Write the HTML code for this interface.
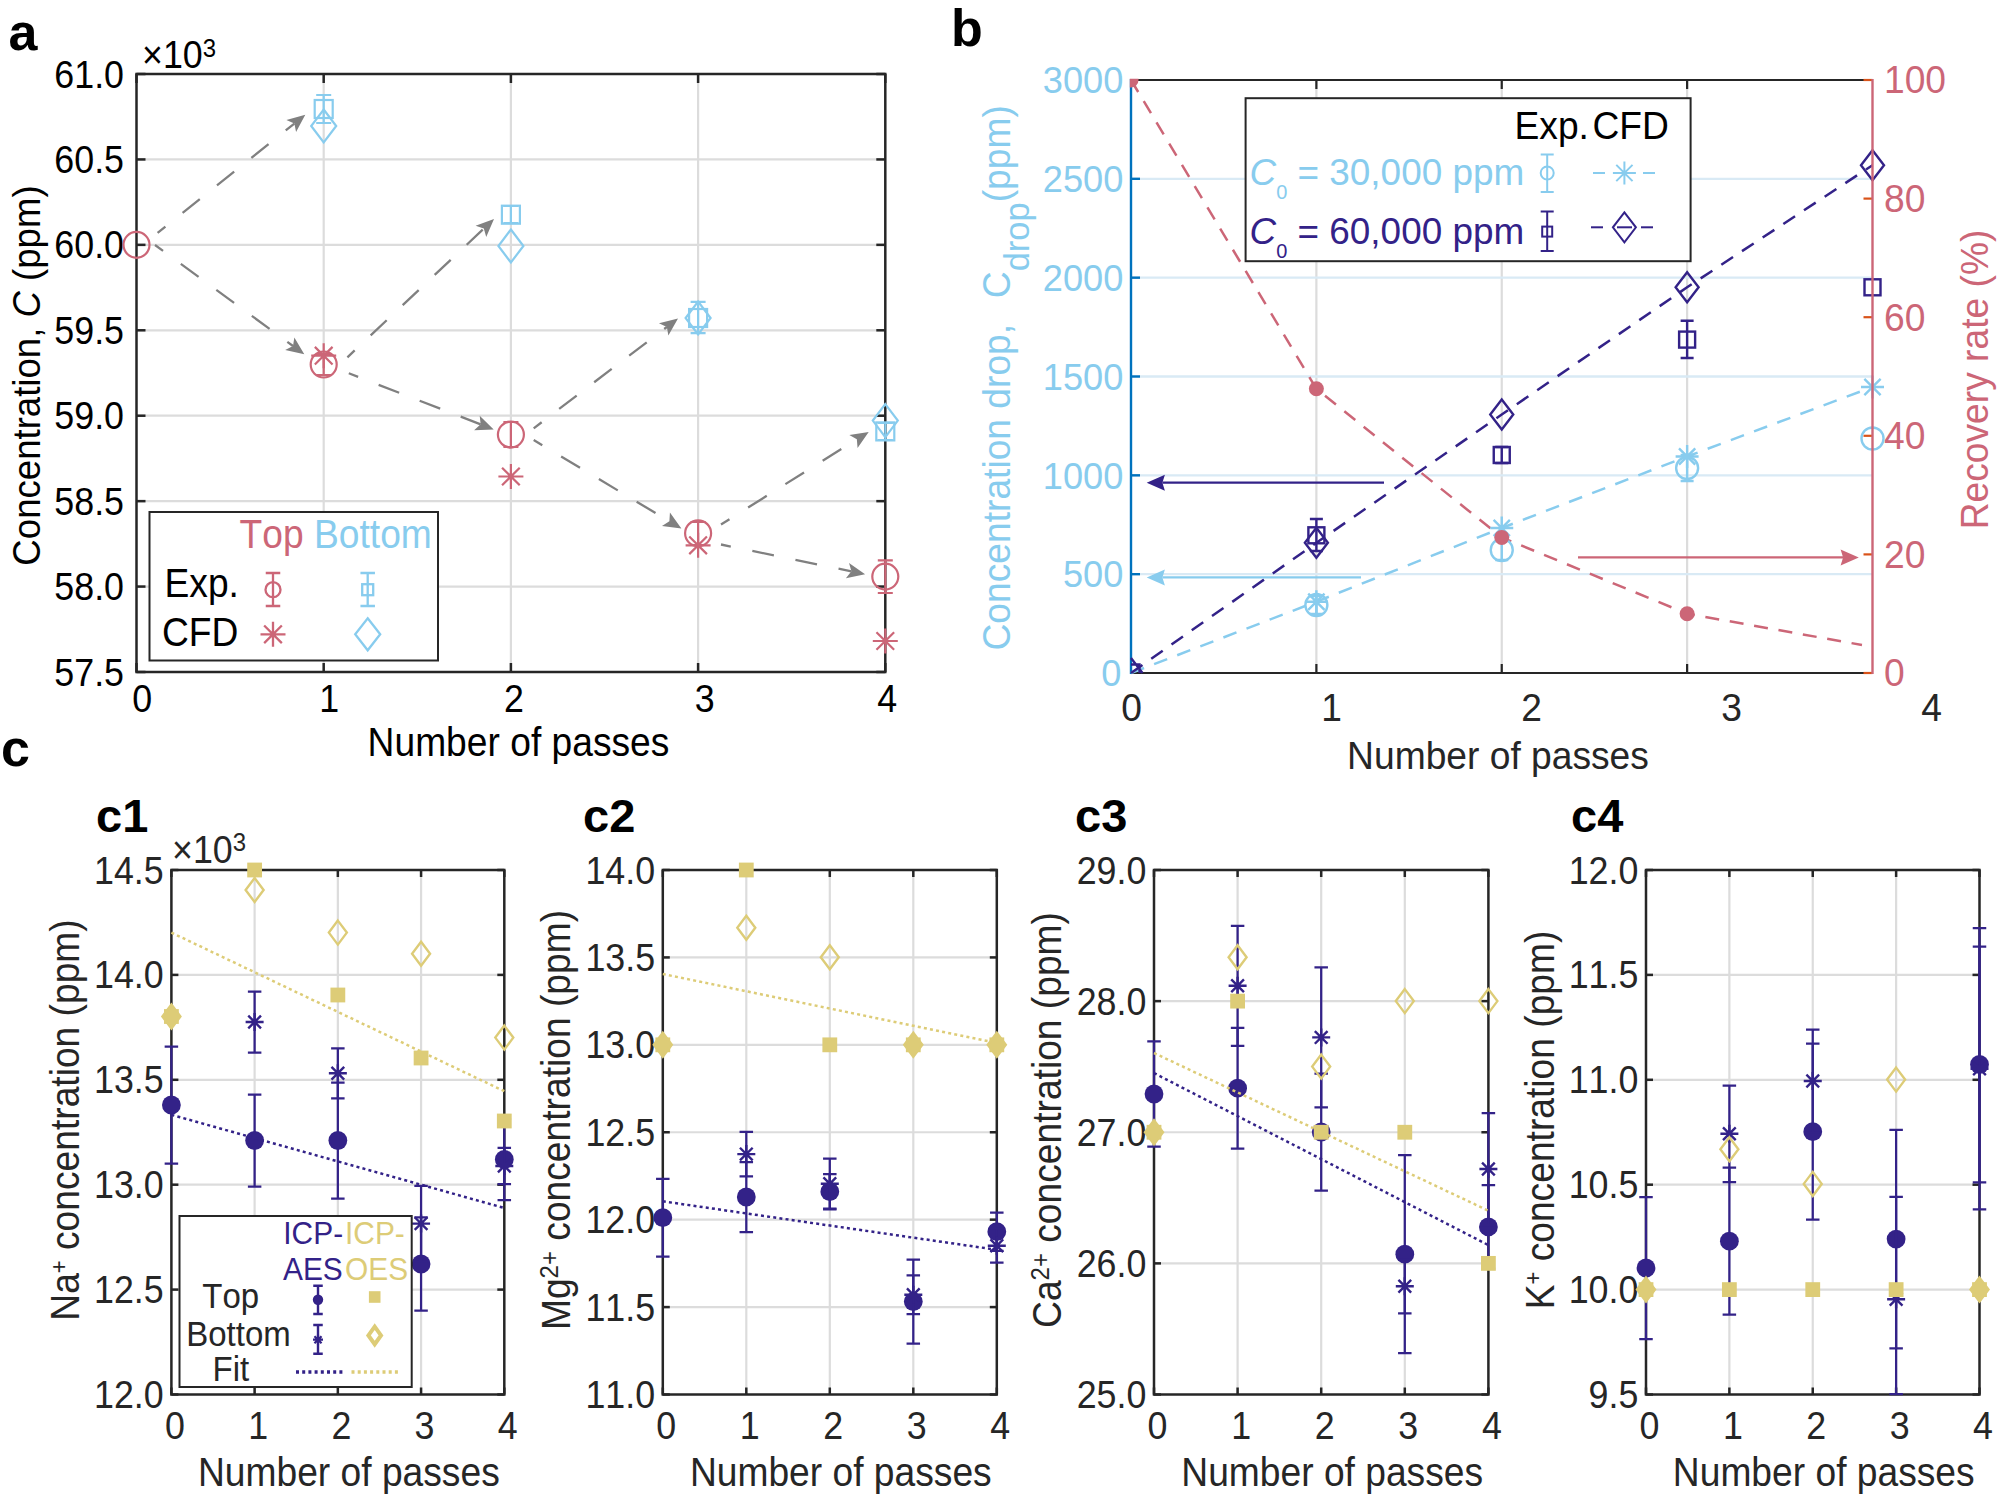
<!DOCTYPE html>
<html><head><meta charset="utf-8"><title>Figure</title>
<style>html,body{margin:0;padding:0;background:#fff}svg{display:block}</style></head>
<body>
<svg width="2000" height="1497" viewBox="0 0 2000 1497" font-family="Liberation Sans, Arial, sans-serif" style="font-kerning:none" font-kerning="none">
<rect width="2000" height="1497" fill="#fff"/>
<line x1="323.70" y1="74.00" x2="323.70" y2="672.00" stroke="#dcdcdc" stroke-width="2.2" />
<line x1="510.90" y1="74.00" x2="510.90" y2="672.00" stroke="#dcdcdc" stroke-width="2.2" />
<line x1="698.10" y1="74.00" x2="698.10" y2="672.00" stroke="#dcdcdc" stroke-width="2.2" />
<line x1="136.50" y1="159.43" x2="885.30" y2="159.43" stroke="#dcdcdc" stroke-width="2.2" />
<line x1="136.50" y1="244.86" x2="885.30" y2="244.86" stroke="#dcdcdc" stroke-width="2.2" />
<line x1="136.50" y1="330.29" x2="885.30" y2="330.29" stroke="#dcdcdc" stroke-width="2.2" />
<line x1="136.50" y1="415.71" x2="885.30" y2="415.71" stroke="#dcdcdc" stroke-width="2.2" />
<line x1="136.50" y1="501.14" x2="885.30" y2="501.14" stroke="#dcdcdc" stroke-width="2.2" />
<line x1="136.50" y1="586.57" x2="885.30" y2="586.57" stroke="#dcdcdc" stroke-width="2.2" />
<rect x="136.50" y="74.00" width="748.80" height="598.00" fill="none" stroke="#262626" stroke-width="2.5"/>
<line x1="136.50" y1="672.00" x2="136.50" y2="663.00" stroke="#262626" stroke-width="2.5" />
<line x1="136.50" y1="74.00" x2="136.50" y2="83.00" stroke="#262626" stroke-width="2.5" />
<line x1="323.70" y1="672.00" x2="323.70" y2="663.00" stroke="#262626" stroke-width="2.5" />
<line x1="323.70" y1="74.00" x2="323.70" y2="83.00" stroke="#262626" stroke-width="2.5" />
<line x1="510.90" y1="672.00" x2="510.90" y2="663.00" stroke="#262626" stroke-width="2.5" />
<line x1="510.90" y1="74.00" x2="510.90" y2="83.00" stroke="#262626" stroke-width="2.5" />
<line x1="698.10" y1="672.00" x2="698.10" y2="663.00" stroke="#262626" stroke-width="2.5" />
<line x1="698.10" y1="74.00" x2="698.10" y2="83.00" stroke="#262626" stroke-width="2.5" />
<line x1="885.30" y1="672.00" x2="885.30" y2="663.00" stroke="#262626" stroke-width="2.5" />
<line x1="885.30" y1="74.00" x2="885.30" y2="83.00" stroke="#262626" stroke-width="2.5" />
<line x1="136.50" y1="74.00" x2="145.50" y2="74.00" stroke="#262626" stroke-width="2.5" />
<line x1="885.30" y1="74.00" x2="876.30" y2="74.00" stroke="#262626" stroke-width="2.5" />
<line x1="136.50" y1="159.43" x2="145.50" y2="159.43" stroke="#262626" stroke-width="2.5" />
<line x1="885.30" y1="159.43" x2="876.30" y2="159.43" stroke="#262626" stroke-width="2.5" />
<line x1="136.50" y1="244.86" x2="145.50" y2="244.86" stroke="#262626" stroke-width="2.5" />
<line x1="885.30" y1="244.86" x2="876.30" y2="244.86" stroke="#262626" stroke-width="2.5" />
<line x1="136.50" y1="330.29" x2="145.50" y2="330.29" stroke="#262626" stroke-width="2.5" />
<line x1="885.30" y1="330.29" x2="876.30" y2="330.29" stroke="#262626" stroke-width="2.5" />
<line x1="136.50" y1="415.71" x2="145.50" y2="415.71" stroke="#262626" stroke-width="2.5" />
<line x1="885.30" y1="415.71" x2="876.30" y2="415.71" stroke="#262626" stroke-width="2.5" />
<line x1="136.50" y1="501.14" x2="145.50" y2="501.14" stroke="#262626" stroke-width="2.5" />
<line x1="885.30" y1="501.14" x2="876.30" y2="501.14" stroke="#262626" stroke-width="2.5" />
<line x1="136.50" y1="586.57" x2="145.50" y2="586.57" stroke="#262626" stroke-width="2.5" />
<line x1="885.30" y1="586.57" x2="876.30" y2="586.57" stroke="#262626" stroke-width="2.5" />
<line x1="136.50" y1="672.00" x2="145.50" y2="672.00" stroke="#262626" stroke-width="2.5" />
<line x1="885.30" y1="672.00" x2="876.30" y2="672.00" stroke="#262626" stroke-width="2.5" />
<text x="8.50" y="50.00" font-size="52" fill="#000" text-anchor="start" font-weight="bold" >a</text>
<text transform="translate(142.00 68.00) scale(1 1.075)" font-size="35.8" fill="#000" text-anchor="start" >×10<tspan font-size="24" dy="-10.5">3</tspan></text>
<text transform="translate(124.00 87.50) scale(1 1.1)" font-size="35.8" fill="#000" text-anchor="end" >61.0</text>
<text transform="translate(124.00 172.93) scale(1 1.1)" font-size="35.8" fill="#000" text-anchor="end" >60.5</text>
<text transform="translate(124.00 258.36) scale(1 1.1)" font-size="35.8" fill="#000" text-anchor="end" >60.0</text>
<text transform="translate(124.00 343.79) scale(1 1.1)" font-size="35.8" fill="#000" text-anchor="end" >59.5</text>
<text transform="translate(124.00 429.21) scale(1 1.1)" font-size="35.8" fill="#000" text-anchor="end" >59.0</text>
<text transform="translate(124.00 514.64) scale(1 1.1)" font-size="35.8" fill="#000" text-anchor="end" >58.5</text>
<text transform="translate(124.00 600.07) scale(1 1.1)" font-size="35.8" fill="#000" text-anchor="end" >58.0</text>
<text transform="translate(124.00 685.50) scale(1 1.1)" font-size="35.8" fill="#000" text-anchor="end" >57.5</text>
<text transform="translate(142.20 712.00) scale(1 1.1)" font-size="35.8" fill="#000" text-anchor="middle" >0</text>
<text transform="translate(329.20 712.00) scale(1 1.1)" font-size="35.8" fill="#000" text-anchor="middle" >1</text>
<text transform="translate(513.90 712.00) scale(1 1.1)" font-size="35.8" fill="#000" text-anchor="middle" >2</text>
<text transform="translate(704.60 712.00) scale(1 1.1)" font-size="35.8" fill="#000" text-anchor="middle" >3</text>
<text transform="translate(887.30 712.00) scale(1 1.1)" font-size="35.8" fill="#000" text-anchor="middle" >4</text>
<text transform="translate(518.50 756.00) scale(1 1.075)" font-size="37.2" fill="#000" text-anchor="middle" >Number of passes</text>
<text transform="translate(40.00 375.50) rotate(-90) scale(1 1.075)" font-size="36.6" fill="#000" text-anchor="middle" >Concentration, <tspan font-style="italic">C</tspan> (ppm)</text>
<line x1="157.60" y1="232.80" x2="294.36" y2="123.54" stroke="#808080" stroke-width="2.3" stroke-dasharray="22 22" stroke-dashoffset="12"/>
<path d="M305.30 114.80L296.07 132.09L294.36 123.54L286.40 119.98Z" fill="#808080"/>
<line x1="155.00" y1="245.00" x2="293.00" y2="346.03" stroke="#808080" stroke-width="2.3" stroke-dasharray="22 22" stroke-dashoffset="12"/>
<path d="M304.30 354.30L285.20 349.92L293.00 346.03L294.35 337.41Z" fill="#808080"/>
<line x1="347.40" y1="357.30" x2="483.82" y2="228.61" stroke="#808080" stroke-width="2.3" stroke-dasharray="22 22" stroke-dashoffset="12"/>
<path d="M494.00 219.00L486.23 236.99L483.82 228.61L475.59 225.71Z" fill="#808080"/>
<line x1="348.80" y1="373.30" x2="480.64" y2="424.35" stroke="#808080" stroke-width="2.3" stroke-dasharray="22 22" stroke-dashoffset="12"/>
<path d="M493.70 429.40L474.12 430.13L480.64 424.35L479.71 415.67Z" fill="#808080"/>
<line x1="533.70" y1="428.30" x2="666.86" y2="326.98" stroke="#808080" stroke-width="2.3" stroke-dasharray="22 22" stroke-dashoffset="12"/>
<path d="M678.00 318.50L668.37 335.57L666.86 326.98L658.98 323.23Z" fill="#808080"/>
<line x1="533.70" y1="440.00" x2="669.39" y2="521.30" stroke="#808080" stroke-width="2.3" stroke-dasharray="22 22" stroke-dashoffset="12"/>
<path d="M681.40 528.50L661.98 525.90L669.39 521.30L669.94 512.60Z" fill="#808080"/>
<line x1="721.00" y1="524.50" x2="856.84" y2="439.34" stroke="#808080" stroke-width="2.3" stroke-dasharray="22 22" stroke-dashoffset="12"/>
<path d="M868.70 431.90L857.57 448.03L856.84 439.34L849.33 434.90Z" fill="#808080"/>
<line x1="721.00" y1="544.50" x2="851.39" y2="571.37" stroke="#808080" stroke-width="2.3" stroke-dasharray="22 22" stroke-dashoffset="12"/>
<path d="M865.10 574.20L845.91 578.16L851.39 571.37L849.04 562.98Z" fill="#808080"/>
<circle cx="136.50" cy="244.86" r="13" stroke="#CC6677" stroke-width="2.2" fill="none"/>
<path d="M323.70 354.00V375.00M316.20 354.00H331.20M316.20 375.00H331.20" stroke="#CC6677" stroke-width="2.2" fill="none"/>
<circle cx="323.70" cy="364.50" r="13" stroke="#CC6677" stroke-width="2.2" fill="none"/>
<path d="M510.90 422.00V447.00M503.40 422.00H518.40M503.40 447.00H518.40" stroke="#CC6677" stroke-width="2.2" fill="none"/>
<circle cx="510.90" cy="434.60" r="13" stroke="#CC6677" stroke-width="2.2" fill="none"/>
<path d="M698.10 522.00V545.00M690.60 522.00H705.60M690.60 545.00H705.60" stroke="#CC6677" stroke-width="2.2" fill="none"/>
<circle cx="698.10" cy="533.30" r="13" stroke="#CC6677" stroke-width="2.2" fill="none"/>
<path d="M885.30 560.40V593.00M877.80 560.40H892.80M877.80 593.00H892.80" stroke="#CC6677" stroke-width="2.2" fill="none"/>
<circle cx="885.30" cy="576.60" r="13" stroke="#CC6677" stroke-width="2.2" fill="none"/>
<path d="M311.20 355.70H336.20M323.70 343.20V368.20M314.86 346.86L332.54 364.54M314.86 364.54L332.54 346.86" stroke="#CC6677" stroke-width="2.2" fill="none"/>
<path d="M498.40 476.50H523.40M510.90 464.00V489.00M502.06 467.66L519.74 485.34M502.06 485.34L519.74 467.66" stroke="#CC6677" stroke-width="2.2" fill="none"/>
<path d="M685.60 545.30H710.60M698.10 532.80V557.80M689.26 536.46L706.94 554.14M689.26 554.14L706.94 536.46" stroke="#CC6677" stroke-width="2.2" fill="none"/>
<path d="M872.80 641.00H897.80M885.30 628.50V653.50M876.46 632.16L894.14 649.84M876.46 649.84L894.14 632.16" stroke="#CC6677" stroke-width="2.2" fill="none"/>
<path d="M323.70 95.00V123.00M316.20 95.00H331.20M316.20 123.00H331.20" stroke="#88CCEE" stroke-width="2.2" fill="none"/>
<rect x="314.70" y="100.00" width="18" height="18" stroke="#88CCEE" stroke-width="2.2" fill="none"/>
<path d="M510.90 206.00V223.00M503.40 206.00H518.40M503.40 223.00H518.40" stroke="#88CCEE" stroke-width="2.2" fill="none"/>
<rect x="501.90" y="205.70" width="18" height="18" stroke="#88CCEE" stroke-width="2.2" fill="none"/>
<path d="M698.10 301.80V333.20M690.60 301.80H705.60M690.60 333.20H705.60" stroke="#88CCEE" stroke-width="2.2" fill="none"/>
<rect x="689.10" y="309.00" width="18" height="18" stroke="#88CCEE" stroke-width="2.2" fill="none"/>
<path d="M885.30 423.00V440.00M877.80 423.00H892.80M877.80 440.00H892.80" stroke="#88CCEE" stroke-width="2.2" fill="none"/>
<rect x="876.30" y="422.40" width="18" height="18" stroke="#88CCEE" stroke-width="2.2" fill="none"/>
<path d="M323.70 109.50L336.20 126.00L323.70 142.50L311.20 126.00Z" stroke="#88CCEE" stroke-width="2.2" fill="none" stroke-linejoin="miter"/>
<path d="M510.90 229.50L523.40 246.00L510.90 262.50L498.40 246.00Z" stroke="#88CCEE" stroke-width="2.2" fill="none" stroke-linejoin="miter"/>
<path d="M698.10 301.50L710.60 318.00L698.10 334.50L685.60 318.00Z" stroke="#88CCEE" stroke-width="2.2" fill="none" stroke-linejoin="miter"/>
<path d="M885.30 404.10L897.80 420.60L885.30 437.10L872.80 420.60Z" stroke="#88CCEE" stroke-width="2.2" fill="none" stroke-linejoin="miter"/>
<rect x="149.5" y="512" width="288.5" height="148.5" fill="#fff" stroke="#262626" stroke-width="2"/>
<text transform="translate(239.50 548.00) scale(1 1.075)" font-size="37.2" fill="#CC6677" text-anchor="start" >Top</text>
<text transform="translate(314.00 548.00) scale(1 1.075)" font-size="37.2" fill="#88CCEE" text-anchor="start" >Bottom</text>
<text transform="translate(164.50 596.70) scale(1 1.075)" font-size="37.2" fill="#000" text-anchor="start" >Exp.</text>
<text transform="translate(162.00 646.00) scale(1 1.075)" font-size="37.2" fill="#000" text-anchor="start" >CFD</text>
<path d="M273.00 573.00V606.00M265.75 573.00H280.25M265.75 606.00H280.25" stroke="#CC6677" stroke-width="2.3" fill="none"/>
<circle cx="273.00" cy="589.70" r="7.5" stroke="#CC6677" stroke-width="2.3" fill="none"/>
<path d="M367.70 573.00V606.00M360.45 573.00H374.95M360.45 606.00H374.95" stroke="#88CCEE" stroke-width="2.3" fill="none"/>
<rect x="362.20" y="584.20" width="11" height="11" stroke="#88CCEE" stroke-width="2.3" fill="none"/>
<path d="M260.50 634.30H285.50M273.00 621.80V646.80M264.16 625.46L281.84 643.14M264.16 643.14L281.84 625.46" stroke="#CC6677" stroke-width="2.3" fill="none"/>
<path d="M367.70 618.30L380.20 634.30L367.70 650.30L355.20 634.30Z" stroke="#88CCEE" stroke-width="2.3" fill="none" stroke-linejoin="miter"/>
<line x1="1316.38" y1="80.00" x2="1316.38" y2="673.00" stroke="#dcdcdc" stroke-width="2.2" />
<line x1="1501.75" y1="80.00" x2="1501.75" y2="673.00" stroke="#dcdcdc" stroke-width="2.2" />
<line x1="1687.12" y1="80.00" x2="1687.12" y2="673.00" stroke="#dcdcdc" stroke-width="2.2" />
<line x1="1131.00" y1="178.83" x2="1872.50" y2="178.83" stroke="#d9eaf5" stroke-width="2.3" />
<line x1="1131.00" y1="277.67" x2="1872.50" y2="277.67" stroke="#d9eaf5" stroke-width="2.3" />
<line x1="1131.00" y1="376.50" x2="1872.50" y2="376.50" stroke="#d9eaf5" stroke-width="2.3" />
<line x1="1131.00" y1="475.33" x2="1872.50" y2="475.33" stroke="#d9eaf5" stroke-width="2.3" />
<line x1="1131.00" y1="574.17" x2="1872.50" y2="574.17" stroke="#d9eaf5" stroke-width="2.3" />
<line x1="1131.00" y1="80.00" x2="1872.50" y2="80.00" stroke="#262626" stroke-width="2.2" />
<line x1="1131.00" y1="673.00" x2="1872.50" y2="673.00" stroke="#262626" stroke-width="2.2" />
<line x1="1316.38" y1="80.00" x2="1316.38" y2="89.00" stroke="#262626" stroke-width="2.2" />
<line x1="1316.38" y1="673.00" x2="1316.38" y2="664.00" stroke="#262626" stroke-width="2.2" />
<line x1="1501.75" y1="80.00" x2="1501.75" y2="89.00" stroke="#262626" stroke-width="2.2" />
<line x1="1501.75" y1="673.00" x2="1501.75" y2="664.00" stroke="#262626" stroke-width="2.2" />
<line x1="1687.12" y1="80.00" x2="1687.12" y2="89.00" stroke="#262626" stroke-width="2.2" />
<line x1="1687.12" y1="673.00" x2="1687.12" y2="664.00" stroke="#262626" stroke-width="2.2" />
<line x1="1131.00" y1="79.00" x2="1131.00" y2="674.00" stroke="#0072BD" stroke-width="2.4" />
<line x1="1131.00" y1="178.83" x2="1140.00" y2="178.83" stroke="#0072BD" stroke-width="2.4" />
<line x1="1131.00" y1="277.67" x2="1140.00" y2="277.67" stroke="#0072BD" stroke-width="2.4" />
<line x1="1131.00" y1="376.50" x2="1140.00" y2="376.50" stroke="#0072BD" stroke-width="2.4" />
<line x1="1131.00" y1="475.33" x2="1140.00" y2="475.33" stroke="#0072BD" stroke-width="2.4" />
<line x1="1131.00" y1="574.17" x2="1140.00" y2="574.17" stroke="#0072BD" stroke-width="2.4" />
<line x1="1863.50" y1="673.00" x2="1872.50" y2="673.00" stroke="#D95319" stroke-width="2.2" />
<line x1="1863.50" y1="554.40" x2="1872.50" y2="554.40" stroke="#D95319" stroke-width="2.2" />
<line x1="1863.50" y1="435.80" x2="1872.50" y2="435.80" stroke="#D95319" stroke-width="2.2" />
<line x1="1863.50" y1="317.20" x2="1872.50" y2="317.20" stroke="#D95319" stroke-width="2.2" />
<line x1="1863.50" y1="198.60" x2="1872.50" y2="198.60" stroke="#D95319" stroke-width="2.2" />
<line x1="1863.50" y1="80.00" x2="1872.50" y2="80.00" stroke="#D95319" stroke-width="2.2" />
<text x="951.00" y="45.50" font-size="52" fill="#000" text-anchor="start" font-weight="bold" >b</text>
<text transform="translate(1123.30 93.30) scale(1 1.03)" font-size="36.2" fill="#88CCEE" text-anchor="end" >3000</text>
<text transform="translate(1123.30 192.13) scale(1 1.03)" font-size="36.2" fill="#88CCEE" text-anchor="end" >2500</text>
<text transform="translate(1123.30 290.97) scale(1 1.03)" font-size="36.2" fill="#88CCEE" text-anchor="end" >2000</text>
<text transform="translate(1123.30 389.80) scale(1 1.03)" font-size="36.2" fill="#88CCEE" text-anchor="end" >1500</text>
<text transform="translate(1123.30 488.63) scale(1 1.03)" font-size="36.2" fill="#88CCEE" text-anchor="end" >1000</text>
<text transform="translate(1123.30 587.47) scale(1 1.03)" font-size="36.2" fill="#88CCEE" text-anchor="end" >500</text>
<text transform="translate(1121.50 686.30) scale(1 1.03)" font-size="36.2" fill="#88CCEE" text-anchor="end" >0</text>
<text transform="translate(1884.00 686.30) scale(1 1.03)" font-size="37.2" fill="#CC6677" text-anchor="start" >0</text>
<text transform="translate(1884.00 567.70) scale(1 1.03)" font-size="37.2" fill="#CC6677" text-anchor="start" >20</text>
<text transform="translate(1884.00 449.10) scale(1 1.03)" font-size="37.2" fill="#CC6677" text-anchor="start" >40</text>
<text transform="translate(1884.00 330.50) scale(1 1.03)" font-size="37.2" fill="#CC6677" text-anchor="start" >60</text>
<text transform="translate(1884.00 211.90) scale(1 1.03)" font-size="37.2" fill="#CC6677" text-anchor="start" >80</text>
<text transform="translate(1884.00 93.30) scale(1 1.03)" font-size="37.2" fill="#CC6677" text-anchor="start" >100</text>
<text transform="translate(1131.50 720.50) scale(1 1.03)" font-size="37.2" fill="#262626" text-anchor="middle" >0</text>
<text transform="translate(1331.50 720.50) scale(1 1.03)" font-size="37.2" fill="#262626" text-anchor="middle" >1</text>
<text transform="translate(1531.50 720.50) scale(1 1.03)" font-size="37.2" fill="#262626" text-anchor="middle" >2</text>
<text transform="translate(1731.50 720.50) scale(1 1.03)" font-size="37.2" fill="#262626" text-anchor="middle" >3</text>
<text transform="translate(1931.50 720.50) scale(1 1.03)" font-size="37.2" fill="#262626" text-anchor="middle" >4</text>
<text transform="translate(1498.00 769.00) scale(1 1.02)" font-size="37.2" fill="#262626" text-anchor="middle" >Number of passes</text>
<text transform="translate(1010 650.5) rotate(-90) scale(1 1.02)" font-size="37.2" fill="#88CCEE">Concentration drop,&#160;&#160;<tspan dx="5">C</tspan><tspan font-size="34.5" dy="19">drop</tspan><tspan dy="-19">(ppm)</tspan></text>
<text transform="translate(1987.50 379.50) rotate(-90) scale(1 1.02)" font-size="37.2" fill="#CC6677" text-anchor="middle" >Recovery rate (%)</text>
<polyline points="1131.00,80.00 1316.38,388.80 1501.75,537.40 1687.12,613.70 1862.00,645.00" fill="none" stroke="#CC6677" stroke-width="2.5" stroke-dasharray="14 10.75" />
<polyline points="1131.00,673.00 1316.38,601.70 1501.75,528.00 1687.12,456.50 1872.50,387.00" fill="none" stroke="#88CCEE" stroke-width="2.5" stroke-dasharray="14 10.75" />
<polyline points="1131.00,673.00 1316.38,542.80 1501.75,414.50 1687.12,287.30 1872.50,165.20" fill="none" stroke="#332288" stroke-width="2.5" stroke-dasharray="14 10.75" />
<path d="M1129.8 78.8H1138.5V80A7.5 7.5 0 0 1 1131 87.5H1129.8Z" fill="#CC6677"/>
<path d="M1131 658L1142.5 673M1131 664.5H1139.5V673" stroke="#332288" stroke-width="2.4" fill="none"/>
<path d="M1304.88 601.70H1327.88M1316.38 590.20V613.20M1308.24 593.57L1324.51 609.83M1308.24 609.83L1324.51 593.57" stroke="#88CCEE" stroke-width="2.4" fill="none"/>
<path d="M1490.25 528.00H1513.25M1501.75 516.50V539.50M1493.62 519.87L1509.88 536.13M1493.62 536.13L1509.88 519.87" stroke="#88CCEE" stroke-width="2.4" fill="none"/>
<path d="M1675.62 456.50H1698.62M1687.12 445.00V468.00M1678.99 448.37L1695.26 464.63M1678.99 464.63L1695.26 448.37" stroke="#88CCEE" stroke-width="2.4" fill="none"/>
<path d="M1861.00 387.00H1884.00M1872.50 375.50V398.50M1864.37 378.87L1880.63 395.13M1864.37 395.13L1880.63 378.87" stroke="#88CCEE" stroke-width="2.4" fill="none"/>
<path d="M1316.38 596.00V614.00M1309.88 596.00H1322.88M1309.88 614.00H1322.88" stroke="#88CCEE" stroke-width="2.4" fill="none"/>
<circle cx="1316.38" cy="605.00" r="11" stroke="#88CCEE" stroke-width="2.4" fill="none"/>
<path d="M1501.75 540.00V560.00M1495.25 540.00H1508.25M1495.25 560.00H1508.25" stroke="#88CCEE" stroke-width="2.4" fill="none"/>
<circle cx="1501.75" cy="550.00" r="11" stroke="#88CCEE" stroke-width="2.4" fill="none"/>
<path d="M1687.12 455.00V481.00M1680.62 455.00H1693.62M1680.62 481.00H1693.62" stroke="#88CCEE" stroke-width="2.4" fill="none"/>
<circle cx="1687.12" cy="468.00" r="11" stroke="#88CCEE" stroke-width="2.4" fill="none"/>
<circle cx="1872.50" cy="438.50" r="11" stroke="#88CCEE" stroke-width="2.4" fill="none"/>
<path d="M1316.38 527.80L1327.88 542.80L1316.38 557.80L1304.88 542.80Z" stroke="#332288" stroke-width="2.4" fill="none" stroke-linejoin="miter"/>
<path d="M1501.75 399.50L1513.25 414.50L1501.75 429.50L1490.25 414.50Z" stroke="#332288" stroke-width="2.4" fill="none" stroke-linejoin="miter"/>
<path d="M1687.12 272.30L1698.62 287.30L1687.12 302.30L1675.62 287.30Z" stroke="#332288" stroke-width="2.4" fill="none" stroke-linejoin="miter"/>
<path d="M1872.50 150.20L1884.00 165.20L1872.50 180.20L1861.00 165.20Z" stroke="#332288" stroke-width="2.4" fill="none" stroke-linejoin="miter"/>
<path d="M1316.38 519.00V551.00M1309.88 519.00H1322.88M1309.88 551.00H1322.88" stroke="#332288" stroke-width="2.4" fill="none"/>
<rect x="1308.38" y="527.30" width="16" height="16" stroke="#332288" stroke-width="2.4" fill="none"/>
<path d="M1501.75 447.00V463.00M1495.25 447.00H1508.25M1495.25 463.00H1508.25" stroke="#332288" stroke-width="2.4" fill="none"/>
<rect x="1493.75" y="447.00" width="16" height="16" stroke="#332288" stroke-width="2.4" fill="none"/>
<path d="M1687.12 320.80V358.00M1680.62 320.80H1693.62M1680.62 358.00H1693.62" stroke="#332288" stroke-width="2.4" fill="none"/>
<rect x="1679.12" y="331.60" width="16" height="16" stroke="#332288" stroke-width="2.4" fill="none"/>
<rect x="1864.50" y="279.30" width="16" height="16" stroke="#332288" stroke-width="2.4" fill="none"/>
<circle cx="1316.38" cy="388.80" r="7.5" fill="#CC6677"/>
<circle cx="1501.75" cy="537.40" r="7.5" fill="#CC6677"/>
<circle cx="1687.12" cy="613.70" r="7.5" fill="#CC6677"/>
<line x1="1872.50" y1="79.00" x2="1872.50" y2="674.00" stroke="#CC6677" stroke-width="2.4" />
<line x1="1384.00" y1="482.70" x2="1162.40" y2="482.70" stroke="#332288" stroke-width="2.3" />
<path d="M1146.70 482.70L1164.90 474.70L1162.40 482.70L1164.90 490.70Z" fill="#332288"/>
<line x1="1361.00" y1="577.40" x2="1162.40" y2="577.40" stroke="#88CCEE" stroke-width="2.3" />
<path d="M1146.70 577.40L1164.90 569.40L1162.40 577.40L1164.90 585.40Z" fill="#88CCEE"/>
<line x1="1578.00" y1="557.40" x2="1843.10" y2="557.40" stroke="#CC6677" stroke-width="2.3" />
<path d="M1858.80 557.40L1840.60 565.40L1843.10 557.40L1840.60 549.40Z" fill="#CC6677"/>
<rect x="1245.6" y="98.2" width="445" height="163" fill="#fff" stroke="#262626" stroke-width="2"/>
<text transform="translate(1514.50 138.60) scale(1 1.02)" font-size="37.2" fill="#000" text-anchor="start" >Exp.</text>
<text transform="translate(1592.50 138.60) scale(1 1.02)" font-size="37.2" fill="#000" text-anchor="start" >CFD</text>
<text transform="translate(1249.50 185.00) scale(1 1.02)" font-size="36.9" fill="#88CCEE" text-anchor="start" ><tspan font-style="italic">C</tspan><tspan font-size="20" dy="14">0</tspan><tspan dy="-14"> = 30,000 ppm</tspan></text>
<text transform="translate(1249.50 244.00) scale(1 1.02)" font-size="36.9" fill="#332288" text-anchor="start" ><tspan font-style="italic">C</tspan><tspan font-size="20" dy="14">0</tspan><tspan dy="-14"> = 60,000 ppm</tspan></text>
<path d="M1547.20 154.40V192.00M1540.70 154.40H1553.70M1540.70 192.00H1553.70" stroke="#88CCEE" stroke-width="2" fill="none"/>
<circle cx="1547.20" cy="173.00" r="6.5" stroke="#88CCEE" stroke-width="2" fill="none"/>
<line x1="1593.00" y1="173.00" x2="1605.00" y2="173.00" stroke="#88CCEE" stroke-width="2" />
<line x1="1643.00" y1="173.00" x2="1655.00" y2="173.00" stroke="#88CCEE" stroke-width="2" />
<path d="M1612.90 173.00H1635.90M1624.40 161.50V184.50M1616.27 164.87L1632.53 181.13M1616.27 181.13L1632.53 164.87" stroke="#88CCEE" stroke-width="2" fill="none"/>
<path d="M1547.20 211.50V251.00M1540.70 211.50H1553.70M1540.70 251.00H1553.70" stroke="#332288" stroke-width="2" fill="none"/>
<rect x="1542.20" y="226.60" width="10" height="10" stroke="#332288" stroke-width="2" fill="none"/>
<line x1="1591.00" y1="227.30" x2="1603.00" y2="227.30" stroke="#332288" stroke-width="2" />
<line x1="1641.00" y1="227.30" x2="1653.00" y2="227.30" stroke="#332288" stroke-width="2" />
<line x1="1617.00" y1="227.30" x2="1632.00" y2="227.30" stroke="#332288" stroke-width="2" />
<path d="M1624.40 212.30L1635.90 227.30L1624.40 242.30L1612.90 227.30Z" stroke="#332288" stroke-width="2" fill="none" stroke-linejoin="miter"/>
<text x="1.00" y="765.50" font-size="52" fill="#000" text-anchor="start" font-weight="bold" >c</text>
<line x1="254.62" y1="870.00" x2="254.62" y2="1394.50" stroke="#dcdcdc" stroke-width="2.2" />
<line x1="337.85" y1="870.00" x2="337.85" y2="1394.50" stroke="#dcdcdc" stroke-width="2.2" />
<line x1="421.07" y1="870.00" x2="421.07" y2="1394.50" stroke="#dcdcdc" stroke-width="2.2" />
<line x1="171.40" y1="974.90" x2="504.30" y2="974.90" stroke="#dcdcdc" stroke-width="2.2" />
<line x1="171.40" y1="1079.80" x2="504.30" y2="1079.80" stroke="#dcdcdc" stroke-width="2.2" />
<line x1="171.40" y1="1184.70" x2="504.30" y2="1184.70" stroke="#dcdcdc" stroke-width="2.2" />
<line x1="171.40" y1="1289.60" x2="504.30" y2="1289.60" stroke="#dcdcdc" stroke-width="2.2" />
<rect x="171.40" y="870.00" width="332.90" height="524.50" fill="none" stroke="#262626" stroke-width="2.5"/>
<line x1="171.40" y1="1394.50" x2="171.40" y2="1387.50" stroke="#262626" stroke-width="2.5" />
<line x1="171.40" y1="870.00" x2="171.40" y2="877.00" stroke="#262626" stroke-width="2.5" />
<line x1="254.62" y1="1394.50" x2="254.62" y2="1387.50" stroke="#262626" stroke-width="2.5" />
<line x1="254.62" y1="870.00" x2="254.62" y2="877.00" stroke="#262626" stroke-width="2.5" />
<line x1="337.85" y1="1394.50" x2="337.85" y2="1387.50" stroke="#262626" stroke-width="2.5" />
<line x1="337.85" y1="870.00" x2="337.85" y2="877.00" stroke="#262626" stroke-width="2.5" />
<line x1="421.07" y1="1394.50" x2="421.07" y2="1387.50" stroke="#262626" stroke-width="2.5" />
<line x1="421.07" y1="870.00" x2="421.07" y2="877.00" stroke="#262626" stroke-width="2.5" />
<line x1="504.30" y1="1394.50" x2="504.30" y2="1387.50" stroke="#262626" stroke-width="2.5" />
<line x1="504.30" y1="870.00" x2="504.30" y2="877.00" stroke="#262626" stroke-width="2.5" />
<line x1="171.40" y1="870.00" x2="178.40" y2="870.00" stroke="#262626" stroke-width="2.5" />
<line x1="504.30" y1="870.00" x2="497.30" y2="870.00" stroke="#262626" stroke-width="2.5" />
<line x1="171.40" y1="974.90" x2="178.40" y2="974.90" stroke="#262626" stroke-width="2.5" />
<line x1="504.30" y1="974.90" x2="497.30" y2="974.90" stroke="#262626" stroke-width="2.5" />
<line x1="171.40" y1="1079.80" x2="178.40" y2="1079.80" stroke="#262626" stroke-width="2.5" />
<line x1="504.30" y1="1079.80" x2="497.30" y2="1079.80" stroke="#262626" stroke-width="2.5" />
<line x1="171.40" y1="1184.70" x2="178.40" y2="1184.70" stroke="#262626" stroke-width="2.5" />
<line x1="504.30" y1="1184.70" x2="497.30" y2="1184.70" stroke="#262626" stroke-width="2.5" />
<line x1="171.40" y1="1289.60" x2="178.40" y2="1289.60" stroke="#262626" stroke-width="2.5" />
<line x1="504.30" y1="1289.60" x2="497.30" y2="1289.60" stroke="#262626" stroke-width="2.5" />
<line x1="171.40" y1="1394.50" x2="178.40" y2="1394.50" stroke="#262626" stroke-width="2.5" />
<line x1="504.30" y1="1394.50" x2="497.30" y2="1394.50" stroke="#262626" stroke-width="2.5" />
<text x="96.00" y="831.50" font-size="47" fill="#000" text-anchor="start" font-weight="bold" >c1</text>
<text transform="translate(163.70 883.50) scale(1 1.1)" font-size="35.8" fill="#262626" text-anchor="end" >14.5</text>
<text transform="translate(163.70 988.40) scale(1 1.1)" font-size="35.8" fill="#262626" text-anchor="end" >14.0</text>
<text transform="translate(163.70 1093.30) scale(1 1.1)" font-size="35.8" fill="#262626" text-anchor="end" >13.5</text>
<text transform="translate(163.70 1198.20) scale(1 1.1)" font-size="35.8" fill="#262626" text-anchor="end" >13.0</text>
<text transform="translate(163.70 1303.10) scale(1 1.1)" font-size="35.8" fill="#262626" text-anchor="end" >12.5</text>
<text transform="translate(163.70 1408.00) scale(1 1.1)" font-size="35.8" fill="#262626" text-anchor="end" >12.0</text>
<text transform="translate(174.90 1438.50) scale(1 1.1)" font-size="35.8" fill="#262626" text-anchor="middle" >0</text>
<text transform="translate(258.12 1438.50) scale(1 1.1)" font-size="35.8" fill="#262626" text-anchor="middle" >1</text>
<text transform="translate(341.35 1438.50) scale(1 1.1)" font-size="35.8" fill="#262626" text-anchor="middle" >2</text>
<text transform="translate(424.57 1438.50) scale(1 1.1)" font-size="35.8" fill="#262626" text-anchor="middle" >3</text>
<text transform="translate(507.80 1438.50) scale(1 1.1)" font-size="35.8" fill="#262626" text-anchor="middle" >4</text>
<text transform="translate(348.85 1486.00) scale(1 1.075)" font-size="37.2" fill="#262626" text-anchor="middle" >Number of passes</text>
<text transform="translate(79.00 1120.00) rotate(-90) scale(1 1.075)" font-size="37.2" fill="#262626" text-anchor="middle" >Na<tspan font-size="22" dy="-11.5">+</tspan><tspan dy="11.5"> concentration (ppm)</tspan></text>
<text transform="translate(172.00 862.50) scale(1 1.075)" font-size="35.8" fill="#262626" text-anchor="start" >×10<tspan font-size="24" dy="-10.5">3</tspan></text>
<path d="M171.40 1046.50V1163.50M164.65 1046.50H178.15M164.65 1163.50H178.15" stroke="#332288" stroke-width="2.25" fill="none"/>
<circle cx="171.40" cy="1105.00" r="9.4" fill="#332288"/>
<path d="M254.62 1094.50V1186.50M247.88 1094.50H261.38M247.88 1186.50H261.38" stroke="#332288" stroke-width="2.25" fill="none"/>
<circle cx="254.62" cy="1140.50" r="9.4" fill="#332288"/>
<path d="M337.85 1082.50V1198.50M331.10 1082.50H344.60M331.10 1198.50H344.60" stroke="#332288" stroke-width="2.25" fill="none"/>
<circle cx="337.85" cy="1140.50" r="9.4" fill="#332288"/>
<path d="M421.07 1217.40V1310.60M414.32 1217.40H427.82M414.32 1310.60H427.82" stroke="#332288" stroke-width="2.25" fill="none"/>
<circle cx="421.07" cy="1264.00" r="9.4" fill="#332288"/>
<path d="M504.30 1118.80V1200.00M497.55 1118.80H511.05M497.55 1200.00H511.05" stroke="#332288" stroke-width="2.25" fill="none"/>
<circle cx="504.30" cy="1159.40" r="9.4" fill="#332288"/>
<path d="M254.62 991.50V1052.50M247.88 991.50H261.38M247.88 1052.50H261.38" stroke="#332288" stroke-width="2.25" fill="none"/>
<path d="M245.62 1022.00H263.62M254.62 1013.00V1031.00M248.26 1015.64L260.99 1028.36M248.26 1028.36L260.99 1015.64" stroke="#332288" stroke-width="2.4" fill="none"/>
<path d="M337.85 1048.30V1098.30M331.10 1048.30H344.60M331.10 1098.30H344.60" stroke="#332288" stroke-width="2.25" fill="none"/>
<path d="M328.85 1073.30H346.85M337.85 1064.30V1082.30M331.49 1066.94L344.21 1079.66M331.49 1079.66L344.21 1066.94" stroke="#332288" stroke-width="2.4" fill="none"/>
<path d="M421.07 1185.90V1261.30M414.32 1185.90H427.82M414.32 1261.30H427.82" stroke="#332288" stroke-width="2.25" fill="none"/>
<path d="M412.07 1223.60H430.07M421.07 1214.60V1232.60M414.71 1217.24L427.44 1229.96M414.71 1229.96L427.44 1217.24" stroke="#332288" stroke-width="2.4" fill="none"/>
<path d="M504.30 1147.80V1184.20M497.55 1147.80H511.05M497.55 1184.20H511.05" stroke="#332288" stroke-width="2.25" fill="none"/>
<path d="M495.30 1166.00H513.30M504.30 1157.00V1175.00M497.94 1159.64L510.66 1172.36M497.94 1172.36L510.66 1159.64" stroke="#332288" stroke-width="2.4" fill="none"/>
<line x1="171.40" y1="1114.80" x2="504.30" y2="1208.00" stroke="#332288" stroke-width="2.5" stroke-dasharray="3 3.2"/>
<line x1="171.40" y1="932.60" x2="504.30" y2="1091.20" stroke="#DDCC77" stroke-width="2.5" stroke-dasharray="3 3.2"/>
<rect x="164.00" y="1009.10" width="14.8" height="14.8" fill="#DDCC77"/>
<rect x="247.22" y="862.60" width="14.8" height="14.8" fill="#DDCC77"/>
<rect x="330.45" y="987.60" width="14.8" height="14.8" fill="#DDCC77"/>
<rect x="413.68" y="1050.60" width="14.8" height="14.8" fill="#DDCC77"/>
<rect x="496.90" y="1113.60" width="14.8" height="14.8" fill="#DDCC77"/>
<path d="M171.40 1004.50L180.40 1016.50L171.40 1028.50L162.40 1016.50Z" stroke="#DDCC77" stroke-width="2.4" fill="#DDCC77" stroke-linejoin="miter"/>
<path d="M254.62 878.00L263.62 890.00L254.62 902.00L245.62 890.00Z" stroke="#DDCC77" stroke-width="2.4" fill="none" stroke-linejoin="miter"/>
<path d="M337.85 920.60L346.85 932.60L337.85 944.60L328.85 932.60Z" stroke="#DDCC77" stroke-width="2.4" fill="none" stroke-linejoin="miter"/>
<path d="M421.07 941.70L430.07 953.70L421.07 965.70L412.07 953.70Z" stroke="#DDCC77" stroke-width="2.4" fill="none" stroke-linejoin="miter"/>
<path d="M504.30 1025.60L513.30 1037.60L504.30 1049.60L495.30 1037.60Z" stroke="#DDCC77" stroke-width="2.4" fill="none" stroke-linejoin="miter"/>
<rect x="179.5" y="1216" width="232.2" height="171" fill="#fff" stroke="#262626" stroke-width="2"/>
<text transform="translate(283.30 1244.00) scale(1 1.075)" font-size="29.9" fill="#332288" text-anchor="start" >ICP-</text>
<text transform="translate(345.00 1244.00) scale(1 1.075)" font-size="29.9" fill="#DDCC77" text-anchor="start" >ICP-</text>
<text transform="translate(283.00 1280.00) scale(1 1.075)" font-size="29.9" fill="#332288" text-anchor="start" >AES</text>
<text transform="translate(345.00 1280.00) scale(1 1.075)" font-size="29.9" fill="#DDCC77" text-anchor="start" >OES</text>
<text transform="translate(202.30 1308.30) scale(1 1.075)" font-size="33" fill="#262626" text-anchor="start" >Top</text>
<text transform="translate(186.20 1346.40) scale(1 1.075)" font-size="33" fill="#262626" text-anchor="start" >Bottom</text>
<text transform="translate(212.50 1380.90) scale(1 1.075)" font-size="33" fill="#262626" text-anchor="start" >Fit</text>
<path d="M318.00 1285.70V1314.00M313.25 1285.70H322.75M313.25 1314.00H322.75" stroke="#332288" stroke-width="2.4" fill="none"/>
<circle cx="318.00" cy="1299.80" r="5.2" fill="#332288"/>
<rect x="368.90" y="1291.20" width="11.6" height="11.6" fill="#DDCC77"/>
<path d="M318.00 1325.00V1353.80M313.25 1325.00H322.75M313.25 1353.80H322.75" stroke="#332288" stroke-width="2.4" fill="none"/>
<path d="M313.00 1339.70H323.00M318.00 1334.70V1344.70M314.46 1336.16L321.54 1343.24M314.46 1343.24L321.54 1336.16" stroke="#332288" stroke-width="2.2" fill="none"/>
<path d="M374.70 1326.60L381.00 1335.40L374.70 1344.20L368.40 1335.40Z" stroke="#DDCC77" stroke-width="4" fill="none" stroke-linejoin="miter"/>
<line x1="296.00" y1="1372.00" x2="343.00" y2="1372.00" stroke="#332288" stroke-width="3.6" stroke-dasharray="3 3.2"/>
<line x1="351.50" y1="1372.00" x2="398.50" y2="1372.00" stroke="#DDCC77" stroke-width="3.6" stroke-dasharray="3 3.2"/>
<line x1="746.30" y1="870.00" x2="746.30" y2="1394.50" stroke="#dcdcdc" stroke-width="2.2" />
<line x1="829.80" y1="870.00" x2="829.80" y2="1394.50" stroke="#dcdcdc" stroke-width="2.2" />
<line x1="913.30" y1="870.00" x2="913.30" y2="1394.50" stroke="#dcdcdc" stroke-width="2.2" />
<line x1="662.80" y1="957.42" x2="996.80" y2="957.42" stroke="#dcdcdc" stroke-width="2.2" />
<line x1="662.80" y1="1044.83" x2="996.80" y2="1044.83" stroke="#dcdcdc" stroke-width="2.2" />
<line x1="662.80" y1="1132.25" x2="996.80" y2="1132.25" stroke="#dcdcdc" stroke-width="2.2" />
<line x1="662.80" y1="1219.67" x2="996.80" y2="1219.67" stroke="#dcdcdc" stroke-width="2.2" />
<line x1="662.80" y1="1307.08" x2="996.80" y2="1307.08" stroke="#dcdcdc" stroke-width="2.2" />
<rect x="662.80" y="870.00" width="334.00" height="524.50" fill="none" stroke="#262626" stroke-width="2.5"/>
<line x1="662.80" y1="1394.50" x2="662.80" y2="1387.50" stroke="#262626" stroke-width="2.5" />
<line x1="662.80" y1="870.00" x2="662.80" y2="877.00" stroke="#262626" stroke-width="2.5" />
<line x1="746.30" y1="1394.50" x2="746.30" y2="1387.50" stroke="#262626" stroke-width="2.5" />
<line x1="746.30" y1="870.00" x2="746.30" y2="877.00" stroke="#262626" stroke-width="2.5" />
<line x1="829.80" y1="1394.50" x2="829.80" y2="1387.50" stroke="#262626" stroke-width="2.5" />
<line x1="829.80" y1="870.00" x2="829.80" y2="877.00" stroke="#262626" stroke-width="2.5" />
<line x1="913.30" y1="1394.50" x2="913.30" y2="1387.50" stroke="#262626" stroke-width="2.5" />
<line x1="913.30" y1="870.00" x2="913.30" y2="877.00" stroke="#262626" stroke-width="2.5" />
<line x1="996.80" y1="1394.50" x2="996.80" y2="1387.50" stroke="#262626" stroke-width="2.5" />
<line x1="996.80" y1="870.00" x2="996.80" y2="877.00" stroke="#262626" stroke-width="2.5" />
<line x1="662.80" y1="870.00" x2="669.80" y2="870.00" stroke="#262626" stroke-width="2.5" />
<line x1="996.80" y1="870.00" x2="989.80" y2="870.00" stroke="#262626" stroke-width="2.5" />
<line x1="662.80" y1="957.42" x2="669.80" y2="957.42" stroke="#262626" stroke-width="2.5" />
<line x1="996.80" y1="957.42" x2="989.80" y2="957.42" stroke="#262626" stroke-width="2.5" />
<line x1="662.80" y1="1044.83" x2="669.80" y2="1044.83" stroke="#262626" stroke-width="2.5" />
<line x1="996.80" y1="1044.83" x2="989.80" y2="1044.83" stroke="#262626" stroke-width="2.5" />
<line x1="662.80" y1="1132.25" x2="669.80" y2="1132.25" stroke="#262626" stroke-width="2.5" />
<line x1="996.80" y1="1132.25" x2="989.80" y2="1132.25" stroke="#262626" stroke-width="2.5" />
<line x1="662.80" y1="1219.67" x2="669.80" y2="1219.67" stroke="#262626" stroke-width="2.5" />
<line x1="996.80" y1="1219.67" x2="989.80" y2="1219.67" stroke="#262626" stroke-width="2.5" />
<line x1="662.80" y1="1307.08" x2="669.80" y2="1307.08" stroke="#262626" stroke-width="2.5" />
<line x1="996.80" y1="1307.08" x2="989.80" y2="1307.08" stroke="#262626" stroke-width="2.5" />
<line x1="662.80" y1="1394.50" x2="669.80" y2="1394.50" stroke="#262626" stroke-width="2.5" />
<line x1="996.80" y1="1394.50" x2="989.80" y2="1394.50" stroke="#262626" stroke-width="2.5" />
<text x="583.00" y="831.50" font-size="47" fill="#000" text-anchor="start" font-weight="bold" >c2</text>
<text transform="translate(655.10 883.50) scale(1 1.1)" font-size="35.8" fill="#262626" text-anchor="end" >14.0</text>
<text transform="translate(655.10 970.92) scale(1 1.1)" font-size="35.8" fill="#262626" text-anchor="end" >13.5</text>
<text transform="translate(655.10 1058.33) scale(1 1.1)" font-size="35.8" fill="#262626" text-anchor="end" >13.0</text>
<text transform="translate(655.10 1145.75) scale(1 1.1)" font-size="35.8" fill="#262626" text-anchor="end" >12.5</text>
<text transform="translate(655.10 1233.17) scale(1 1.1)" font-size="35.8" fill="#262626" text-anchor="end" >12.0</text>
<text transform="translate(655.10 1320.58) scale(1 1.1)" font-size="35.8" fill="#262626" text-anchor="end" >11.5</text>
<text transform="translate(655.10 1408.00) scale(1 1.1)" font-size="35.8" fill="#262626" text-anchor="end" >11.0</text>
<text transform="translate(666.30 1438.50) scale(1 1.1)" font-size="35.8" fill="#262626" text-anchor="middle" >0</text>
<text transform="translate(749.80 1438.50) scale(1 1.1)" font-size="35.8" fill="#262626" text-anchor="middle" >1</text>
<text transform="translate(833.30 1438.50) scale(1 1.1)" font-size="35.8" fill="#262626" text-anchor="middle" >2</text>
<text transform="translate(916.80 1438.50) scale(1 1.1)" font-size="35.8" fill="#262626" text-anchor="middle" >3</text>
<text transform="translate(1000.30 1438.50) scale(1 1.1)" font-size="35.8" fill="#262626" text-anchor="middle" >4</text>
<text transform="translate(840.80 1486.00) scale(1 1.075)" font-size="37.2" fill="#262626" text-anchor="middle" >Number of passes</text>
<text transform="translate(570.00 1120.00) rotate(-90) scale(1 1.075)" font-size="37.2" fill="#262626" text-anchor="middle" >Mg<tspan font-size="24" dy="-11.5">2+</tspan><tspan dy="11.5">  concentration (ppm)</tspan></text>
<path d="M662.80 1178.90V1256.50M656.05 1178.90H669.55M656.05 1256.50H669.55" stroke="#332288" stroke-width="2.25" fill="none"/>
<circle cx="662.80" cy="1217.70" r="9.4" fill="#332288"/>
<path d="M746.30 1162.00V1232.00M739.55 1162.00H753.05M739.55 1232.00H753.05" stroke="#332288" stroke-width="2.25" fill="none"/>
<circle cx="746.30" cy="1197.00" r="9.4" fill="#332288"/>
<path d="M829.80 1174.00V1209.40M823.05 1174.00H836.55M823.05 1209.40H836.55" stroke="#332288" stroke-width="2.25" fill="none"/>
<circle cx="829.80" cy="1191.70" r="9.4" fill="#332288"/>
<path d="M913.30 1259.60V1343.60M906.55 1259.60H920.05M906.55 1343.60H920.05" stroke="#332288" stroke-width="2.25" fill="none"/>
<circle cx="913.30" cy="1301.60" r="9.4" fill="#332288"/>
<path d="M996.80 1212.50V1250.90M990.05 1212.50H1003.55M990.05 1250.90H1003.55" stroke="#332288" stroke-width="2.25" fill="none"/>
<circle cx="996.80" cy="1231.70" r="9.4" fill="#332288"/>
<path d="M746.30 1131.90V1176.30M739.55 1131.90H753.05M739.55 1176.30H753.05" stroke="#332288" stroke-width="2.25" fill="none"/>
<path d="M737.30 1154.10H755.30M746.30 1145.10V1163.10M739.94 1147.74L752.66 1160.46M739.94 1160.46L752.66 1147.74" stroke="#332288" stroke-width="2.4" fill="none"/>
<path d="M829.80 1158.70V1208.70M823.05 1158.70H836.55M823.05 1208.70H836.55" stroke="#332288" stroke-width="2.25" fill="none"/>
<path d="M820.80 1183.70H838.80M829.80 1174.70V1192.70M823.44 1177.34L836.16 1190.06M823.44 1190.06L836.16 1177.34" stroke="#332288" stroke-width="2.4" fill="none"/>
<path d="M913.30 1275.30V1314.10M906.55 1275.30H920.05M906.55 1314.10H920.05" stroke="#332288" stroke-width="2.25" fill="none"/>
<path d="M904.30 1294.70H922.30M913.30 1285.70V1303.70M906.94 1288.34L919.66 1301.06M906.94 1301.06L919.66 1288.34" stroke="#332288" stroke-width="2.4" fill="none"/>
<path d="M996.80 1228.70V1262.70M990.05 1228.70H1003.55M990.05 1262.70H1003.55" stroke="#332288" stroke-width="2.25" fill="none"/>
<path d="M987.80 1245.70H1005.80M996.80 1236.70V1254.70M990.44 1239.34L1003.16 1252.06M990.44 1252.06L1003.16 1239.34" stroke="#332288" stroke-width="2.4" fill="none"/>
<line x1="662.80" y1="1201.30" x2="996.80" y2="1249.80" stroke="#332288" stroke-width="2.5" stroke-dasharray="3 3.2"/>
<line x1="662.80" y1="974.00" x2="996.80" y2="1043.00" stroke="#DDCC77" stroke-width="2.5" stroke-dasharray="3 3.2"/>
<rect x="655.40" y="1037.43" width="14.8" height="14.8" fill="#DDCC77"/>
<rect x="738.90" y="862.60" width="14.8" height="14.8" fill="#DDCC77"/>
<rect x="822.40" y="1037.43" width="14.8" height="14.8" fill="#DDCC77"/>
<rect x="905.90" y="1037.43" width="14.8" height="14.8" fill="#DDCC77"/>
<rect x="989.40" y="1037.43" width="14.8" height="14.8" fill="#DDCC77"/>
<path d="M662.80 1032.83L671.80 1044.83L662.80 1056.83L653.80 1044.83Z" stroke="#DDCC77" stroke-width="2.4" fill="#DDCC77" stroke-linejoin="miter"/>
<path d="M746.30 915.70L755.30 927.70L746.30 939.70L737.30 927.70Z" stroke="#DDCC77" stroke-width="2.4" fill="none" stroke-linejoin="miter"/>
<path d="M829.80 945.20L838.80 957.20L829.80 969.20L820.80 957.20Z" stroke="#DDCC77" stroke-width="2.4" fill="none" stroke-linejoin="miter"/>
<path d="M913.30 1032.83L922.30 1044.83L913.30 1056.83L904.30 1044.83Z" stroke="#DDCC77" stroke-width="2.4" fill="#DDCC77" stroke-linejoin="miter"/>
<path d="M996.80 1032.83L1005.80 1044.83L996.80 1056.83L987.80 1044.83Z" stroke="#DDCC77" stroke-width="2.4" fill="#DDCC77" stroke-linejoin="miter"/>
<line x1="1237.60" y1="870.00" x2="1237.60" y2="1394.50" stroke="#dcdcdc" stroke-width="2.2" />
<line x1="1321.20" y1="870.00" x2="1321.20" y2="1394.50" stroke="#dcdcdc" stroke-width="2.2" />
<line x1="1404.80" y1="870.00" x2="1404.80" y2="1394.50" stroke="#dcdcdc" stroke-width="2.2" />
<line x1="1154.00" y1="1001.12" x2="1488.40" y2="1001.12" stroke="#dcdcdc" stroke-width="2.2" />
<line x1="1154.00" y1="1132.25" x2="1488.40" y2="1132.25" stroke="#dcdcdc" stroke-width="2.2" />
<line x1="1154.00" y1="1263.38" x2="1488.40" y2="1263.38" stroke="#dcdcdc" stroke-width="2.2" />
<rect x="1154.00" y="870.00" width="334.40" height="524.50" fill="none" stroke="#262626" stroke-width="2.5"/>
<line x1="1154.00" y1="1394.50" x2="1154.00" y2="1387.50" stroke="#262626" stroke-width="2.5" />
<line x1="1154.00" y1="870.00" x2="1154.00" y2="877.00" stroke="#262626" stroke-width="2.5" />
<line x1="1237.60" y1="1394.50" x2="1237.60" y2="1387.50" stroke="#262626" stroke-width="2.5" />
<line x1="1237.60" y1="870.00" x2="1237.60" y2="877.00" stroke="#262626" stroke-width="2.5" />
<line x1="1321.20" y1="1394.50" x2="1321.20" y2="1387.50" stroke="#262626" stroke-width="2.5" />
<line x1="1321.20" y1="870.00" x2="1321.20" y2="877.00" stroke="#262626" stroke-width="2.5" />
<line x1="1404.80" y1="1394.50" x2="1404.80" y2="1387.50" stroke="#262626" stroke-width="2.5" />
<line x1="1404.80" y1="870.00" x2="1404.80" y2="877.00" stroke="#262626" stroke-width="2.5" />
<line x1="1488.40" y1="1394.50" x2="1488.40" y2="1387.50" stroke="#262626" stroke-width="2.5" />
<line x1="1488.40" y1="870.00" x2="1488.40" y2="877.00" stroke="#262626" stroke-width="2.5" />
<line x1="1154.00" y1="870.00" x2="1161.00" y2="870.00" stroke="#262626" stroke-width="2.5" />
<line x1="1488.40" y1="870.00" x2="1481.40" y2="870.00" stroke="#262626" stroke-width="2.5" />
<line x1="1154.00" y1="1001.12" x2="1161.00" y2="1001.12" stroke="#262626" stroke-width="2.5" />
<line x1="1488.40" y1="1001.12" x2="1481.40" y2="1001.12" stroke="#262626" stroke-width="2.5" />
<line x1="1154.00" y1="1132.25" x2="1161.00" y2="1132.25" stroke="#262626" stroke-width="2.5" />
<line x1="1488.40" y1="1132.25" x2="1481.40" y2="1132.25" stroke="#262626" stroke-width="2.5" />
<line x1="1154.00" y1="1263.38" x2="1161.00" y2="1263.38" stroke="#262626" stroke-width="2.5" />
<line x1="1488.40" y1="1263.38" x2="1481.40" y2="1263.38" stroke="#262626" stroke-width="2.5" />
<line x1="1154.00" y1="1394.50" x2="1161.00" y2="1394.50" stroke="#262626" stroke-width="2.5" />
<line x1="1488.40" y1="1394.50" x2="1481.40" y2="1394.50" stroke="#262626" stroke-width="2.5" />
<text x="1075.00" y="831.50" font-size="47" fill="#000" text-anchor="start" font-weight="bold" >c3</text>
<text transform="translate(1146.30 883.50) scale(1 1.1)" font-size="35.8" fill="#262626" text-anchor="end" >29.0</text>
<text transform="translate(1146.30 1014.62) scale(1 1.1)" font-size="35.8" fill="#262626" text-anchor="end" >28.0</text>
<text transform="translate(1146.30 1145.75) scale(1 1.1)" font-size="35.8" fill="#262626" text-anchor="end" >27.0</text>
<text transform="translate(1146.30 1276.88) scale(1 1.1)" font-size="35.8" fill="#262626" text-anchor="end" >26.0</text>
<text transform="translate(1146.30 1408.00) scale(1 1.1)" font-size="35.8" fill="#262626" text-anchor="end" >25.0</text>
<text transform="translate(1157.50 1438.50) scale(1 1.1)" font-size="35.8" fill="#262626" text-anchor="middle" >0</text>
<text transform="translate(1241.10 1438.50) scale(1 1.1)" font-size="35.8" fill="#262626" text-anchor="middle" >1</text>
<text transform="translate(1324.70 1438.50) scale(1 1.1)" font-size="35.8" fill="#262626" text-anchor="middle" >2</text>
<text transform="translate(1408.30 1438.50) scale(1 1.1)" font-size="35.8" fill="#262626" text-anchor="middle" >3</text>
<text transform="translate(1491.90 1438.50) scale(1 1.1)" font-size="35.8" fill="#262626" text-anchor="middle" >4</text>
<text transform="translate(1332.20 1486.00) scale(1 1.075)" font-size="37.2" fill="#262626" text-anchor="middle" >Number of passes</text>
<text transform="translate(1061.00 1120.00) rotate(-90) scale(1 1.075)" font-size="37.2" fill="#262626" text-anchor="middle" >Ca<tspan font-size="24" dy="-11.5">2+</tspan><tspan dy="11.5">  concentration (ppm)</tspan></text>
<path d="M1154.00 1041.40V1146.60M1147.25 1041.40H1160.75M1147.25 1146.60H1160.75" stroke="#332288" stroke-width="2.25" fill="none"/>
<circle cx="1154.00" cy="1094.00" r="9.4" fill="#332288"/>
<path d="M1237.60 1027.90V1148.50M1230.85 1027.90H1244.35M1230.85 1148.50H1244.35" stroke="#332288" stroke-width="2.25" fill="none"/>
<circle cx="1237.60" cy="1088.20" r="9.4" fill="#332288"/>
<path d="M1321.20 1073.50V1190.50M1314.45 1073.50H1327.95M1314.45 1190.50H1327.95" stroke="#332288" stroke-width="2.25" fill="none"/>
<circle cx="1321.20" cy="1132.00" r="9.4" fill="#332288"/>
<path d="M1404.80 1155.20V1353.20M1398.05 1155.20H1411.55M1398.05 1353.20H1411.55" stroke="#332288" stroke-width="2.25" fill="none"/>
<circle cx="1404.80" cy="1254.20" r="9.4" fill="#332288"/>
<path d="M1488.40 1185.20V1268.60M1481.65 1185.20H1495.15M1481.65 1268.60H1495.15" stroke="#332288" stroke-width="2.25" fill="none"/>
<circle cx="1488.40" cy="1226.90" r="9.4" fill="#332288"/>
<path d="M1237.60 925.80V1045.80M1230.85 925.80H1244.35M1230.85 1045.80H1244.35" stroke="#332288" stroke-width="2.25" fill="none"/>
<path d="M1228.60 985.80H1246.60M1237.60 976.80V994.80M1231.24 979.44L1243.96 992.16M1231.24 992.16L1243.96 979.44" stroke="#332288" stroke-width="2.4" fill="none"/>
<path d="M1321.20 967.40V1107.40M1314.45 967.40H1327.95M1314.45 1107.40H1327.95" stroke="#332288" stroke-width="2.25" fill="none"/>
<path d="M1312.20 1037.40H1330.20M1321.20 1028.40V1046.40M1314.84 1031.04L1327.56 1043.76M1314.84 1043.76L1327.56 1031.04" stroke="#332288" stroke-width="2.4" fill="none"/>
<path d="M1404.80 1259.30V1313.30M1398.05 1259.30H1411.55M1398.05 1313.30H1411.55" stroke="#332288" stroke-width="2.25" fill="none"/>
<path d="M1395.80 1286.30H1413.80M1404.80 1277.30V1295.30M1398.44 1279.94L1411.16 1292.66M1398.44 1292.66L1411.16 1279.94" stroke="#332288" stroke-width="2.4" fill="none"/>
<path d="M1488.40 1113.00V1225.00M1481.65 1113.00H1495.15M1481.65 1225.00H1495.15" stroke="#332288" stroke-width="2.25" fill="none"/>
<path d="M1479.40 1169.00H1497.40M1488.40 1160.00V1178.00M1482.04 1162.64L1494.76 1175.36M1482.04 1175.36L1494.76 1162.64" stroke="#332288" stroke-width="2.4" fill="none"/>
<line x1="1154.00" y1="1073.10" x2="1488.40" y2="1245.10" stroke="#332288" stroke-width="2.5" stroke-dasharray="3 3.2"/>
<line x1="1154.00" y1="1053.00" x2="1488.40" y2="1210.70" stroke="#DDCC77" stroke-width="2.5" stroke-dasharray="3 3.2"/>
<rect x="1146.60" y="1124.85" width="14.8" height="14.8" fill="#DDCC77"/>
<rect x="1230.20" y="993.73" width="14.8" height="14.8" fill="#DDCC77"/>
<rect x="1313.80" y="1124.85" width="14.8" height="14.8" fill="#DDCC77"/>
<rect x="1397.40" y="1124.85" width="14.8" height="14.8" fill="#DDCC77"/>
<rect x="1481.00" y="1255.97" width="14.8" height="14.8" fill="#DDCC77"/>
<path d="M1154.00 1120.25L1163.00 1132.25L1154.00 1144.25L1145.00 1132.25Z" stroke="#DDCC77" stroke-width="2.4" fill="#DDCC77" stroke-linejoin="miter"/>
<path d="M1237.60 945.20L1246.60 957.20L1237.60 969.20L1228.60 957.20Z" stroke="#DDCC77" stroke-width="2.4" fill="none" stroke-linejoin="miter"/>
<path d="M1321.20 1054.60L1330.20 1066.60L1321.20 1078.60L1312.20 1066.60Z" stroke="#DDCC77" stroke-width="2.4" fill="none" stroke-linejoin="miter"/>
<path d="M1404.80 989.12L1413.80 1001.12L1404.80 1013.12L1395.80 1001.12Z" stroke="#DDCC77" stroke-width="2.4" fill="none" stroke-linejoin="miter"/>
<path d="M1488.40 989.12L1497.40 1001.12L1488.40 1013.12L1479.40 1001.12Z" stroke="#DDCC77" stroke-width="2.4" fill="none" stroke-linejoin="miter"/>
<line x1="1729.38" y1="870.00" x2="1729.38" y2="1394.50" stroke="#dcdcdc" stroke-width="2.2" />
<line x1="1812.75" y1="870.00" x2="1812.75" y2="1394.50" stroke="#dcdcdc" stroke-width="2.2" />
<line x1="1896.12" y1="870.00" x2="1896.12" y2="1394.50" stroke="#dcdcdc" stroke-width="2.2" />
<line x1="1646.00" y1="974.90" x2="1979.50" y2="974.90" stroke="#dcdcdc" stroke-width="2.2" />
<line x1="1646.00" y1="1079.80" x2="1979.50" y2="1079.80" stroke="#dcdcdc" stroke-width="2.2" />
<line x1="1646.00" y1="1184.70" x2="1979.50" y2="1184.70" stroke="#dcdcdc" stroke-width="2.2" />
<line x1="1646.00" y1="1289.60" x2="1979.50" y2="1289.60" stroke="#dcdcdc" stroke-width="2.2" />
<rect x="1646.00" y="870.00" width="333.50" height="524.50" fill="none" stroke="#262626" stroke-width="2.5"/>
<line x1="1646.00" y1="1394.50" x2="1646.00" y2="1387.50" stroke="#262626" stroke-width="2.5" />
<line x1="1646.00" y1="870.00" x2="1646.00" y2="877.00" stroke="#262626" stroke-width="2.5" />
<line x1="1729.38" y1="1394.50" x2="1729.38" y2="1387.50" stroke="#262626" stroke-width="2.5" />
<line x1="1729.38" y1="870.00" x2="1729.38" y2="877.00" stroke="#262626" stroke-width="2.5" />
<line x1="1812.75" y1="1394.50" x2="1812.75" y2="1387.50" stroke="#262626" stroke-width="2.5" />
<line x1="1812.75" y1="870.00" x2="1812.75" y2="877.00" stroke="#262626" stroke-width="2.5" />
<line x1="1896.12" y1="1394.50" x2="1896.12" y2="1387.50" stroke="#262626" stroke-width="2.5" />
<line x1="1896.12" y1="870.00" x2="1896.12" y2="877.00" stroke="#262626" stroke-width="2.5" />
<line x1="1979.50" y1="1394.50" x2="1979.50" y2="1387.50" stroke="#262626" stroke-width="2.5" />
<line x1="1979.50" y1="870.00" x2="1979.50" y2="877.00" stroke="#262626" stroke-width="2.5" />
<line x1="1646.00" y1="870.00" x2="1653.00" y2="870.00" stroke="#262626" stroke-width="2.5" />
<line x1="1979.50" y1="870.00" x2="1972.50" y2="870.00" stroke="#262626" stroke-width="2.5" />
<line x1="1646.00" y1="974.90" x2="1653.00" y2="974.90" stroke="#262626" stroke-width="2.5" />
<line x1="1979.50" y1="974.90" x2="1972.50" y2="974.90" stroke="#262626" stroke-width="2.5" />
<line x1="1646.00" y1="1079.80" x2="1653.00" y2="1079.80" stroke="#262626" stroke-width="2.5" />
<line x1="1979.50" y1="1079.80" x2="1972.50" y2="1079.80" stroke="#262626" stroke-width="2.5" />
<line x1="1646.00" y1="1184.70" x2="1653.00" y2="1184.70" stroke="#262626" stroke-width="2.5" />
<line x1="1979.50" y1="1184.70" x2="1972.50" y2="1184.70" stroke="#262626" stroke-width="2.5" />
<line x1="1646.00" y1="1289.60" x2="1653.00" y2="1289.60" stroke="#262626" stroke-width="2.5" />
<line x1="1979.50" y1="1289.60" x2="1972.50" y2="1289.60" stroke="#262626" stroke-width="2.5" />
<line x1="1646.00" y1="1394.50" x2="1653.00" y2="1394.50" stroke="#262626" stroke-width="2.5" />
<line x1="1979.50" y1="1394.50" x2="1972.50" y2="1394.50" stroke="#262626" stroke-width="2.5" />
<text x="1571.00" y="831.50" font-size="47" fill="#000" text-anchor="start" font-weight="bold" >c4</text>
<text transform="translate(1638.30 883.50) scale(1 1.1)" font-size="35.8" fill="#262626" text-anchor="end" >12.0</text>
<text transform="translate(1638.30 988.40) scale(1 1.1)" font-size="35.8" fill="#262626" text-anchor="end" >11.5</text>
<text transform="translate(1638.30 1093.30) scale(1 1.1)" font-size="35.8" fill="#262626" text-anchor="end" >11.0</text>
<text transform="translate(1638.30 1198.20) scale(1 1.1)" font-size="35.8" fill="#262626" text-anchor="end" >10.5</text>
<text transform="translate(1638.30 1303.10) scale(1 1.1)" font-size="35.8" fill="#262626" text-anchor="end" >10.0</text>
<text transform="translate(1638.30 1408.00) scale(1 1.1)" font-size="35.8" fill="#262626" text-anchor="end" >9.5</text>
<text transform="translate(1649.50 1438.50) scale(1 1.1)" font-size="35.8" fill="#262626" text-anchor="middle" >0</text>
<text transform="translate(1732.88 1438.50) scale(1 1.1)" font-size="35.8" fill="#262626" text-anchor="middle" >1</text>
<text transform="translate(1816.25 1438.50) scale(1 1.1)" font-size="35.8" fill="#262626" text-anchor="middle" >2</text>
<text transform="translate(1899.62 1438.50) scale(1 1.1)" font-size="35.8" fill="#262626" text-anchor="middle" >3</text>
<text transform="translate(1983.00 1438.50) scale(1 1.1)" font-size="35.8" fill="#262626" text-anchor="middle" >4</text>
<text transform="translate(1823.75 1486.00) scale(1 1.075)" font-size="37.2" fill="#262626" text-anchor="middle" >Number of passes</text>
<text transform="translate(1553.50 1120.00) rotate(-90) scale(1 1.075)" font-size="37.2" fill="#262626" text-anchor="middle" >K<tspan font-size="22" dy="-11.5">+</tspan><tspan dy="11.5"> concentration (ppm)</tspan></text>
<path d="M1646.00 1197.00V1339.00M1639.25 1197.00H1652.75M1639.25 1339.00H1652.75" stroke="#332288" stroke-width="2.25" fill="none"/>
<circle cx="1646.00" cy="1268.00" r="9.4" fill="#332288"/>
<path d="M1729.38 1167.70V1314.70M1722.62 1167.70H1736.12M1722.62 1314.70H1736.12" stroke="#332288" stroke-width="2.25" fill="none"/>
<circle cx="1729.38" cy="1241.20" r="9.4" fill="#332288"/>
<path d="M1812.75 1043.70V1219.70M1806.00 1043.70H1819.50M1806.00 1219.70H1819.50" stroke="#332288" stroke-width="2.25" fill="none"/>
<circle cx="1812.75" cy="1131.70" r="9.4" fill="#332288"/>
<path d="M1896.12 1129.80V1348.40M1889.38 1129.80H1902.88M1889.38 1348.40H1902.88" stroke="#332288" stroke-width="2.25" fill="none"/>
<circle cx="1896.12" cy="1239.10" r="9.4" fill="#332288"/>
<path d="M1979.50 946.70V1182.30M1972.75 946.70H1986.25M1972.75 1182.30H1986.25" stroke="#332288" stroke-width="2.25" fill="none"/>
<circle cx="1979.50" cy="1064.50" r="9.4" fill="#332288"/>
<path d="M1729.38 1085.60V1182.00M1722.62 1085.60H1736.12M1722.62 1182.00H1736.12" stroke="#332288" stroke-width="2.25" fill="none"/>
<path d="M1720.38 1133.80H1738.38M1729.38 1124.80V1142.80M1723.01 1127.44L1735.74 1140.16M1723.01 1140.16L1735.74 1127.44" stroke="#332288" stroke-width="2.4" fill="none"/>
<path d="M1812.75 1029.60V1132.40M1806.00 1029.60H1819.50M1806.00 1132.40H1819.50" stroke="#332288" stroke-width="2.25" fill="none"/>
<path d="M1803.75 1081.00H1821.75M1812.75 1072.00V1090.00M1806.39 1074.64L1819.11 1087.36M1806.39 1087.36L1819.11 1074.64" stroke="#332288" stroke-width="2.4" fill="none"/>
<path d="M1896.12 1196.90V1394.00M1889.38 1196.90H1902.88M1889.38 1394.00H1902.88" stroke="#332288" stroke-width="2.25" fill="none"/>
<path d="M1887.12 1299.30H1905.12M1896.12 1290.30V1308.30M1889.76 1292.94L1902.49 1305.66M1889.76 1305.66L1902.49 1292.94" stroke="#332288" stroke-width="2.4" fill="none"/>
<path d="M1979.50 928.00V1209.40M1972.75 928.00H1986.25M1972.75 1209.40H1986.25" stroke="#332288" stroke-width="2.25" fill="none"/>
<path d="M1970.50 1068.70H1988.50M1979.50 1059.70V1077.70M1973.14 1062.34L1985.86 1075.06M1973.14 1075.06L1985.86 1062.34" stroke="#332288" stroke-width="2.4" fill="none"/>
<rect x="1638.60" y="1282.20" width="14.8" height="14.8" fill="#DDCC77"/>
<rect x="1721.97" y="1282.20" width="14.8" height="14.8" fill="#DDCC77"/>
<rect x="1805.35" y="1282.20" width="14.8" height="14.8" fill="#DDCC77"/>
<rect x="1888.72" y="1282.20" width="14.8" height="14.8" fill="#DDCC77"/>
<rect x="1972.10" y="1282.20" width="14.8" height="14.8" fill="#DDCC77"/>
<path d="M1646.00 1277.60L1655.00 1289.60L1646.00 1301.60L1637.00 1289.60Z" stroke="#DDCC77" stroke-width="2.4" fill="#DDCC77" stroke-linejoin="miter"/>
<path d="M1729.38 1137.20L1738.38 1149.20L1729.38 1161.20L1720.38 1149.20Z" stroke="#DDCC77" stroke-width="2.4" fill="none" stroke-linejoin="miter"/>
<path d="M1812.75 1171.90L1821.75 1183.90L1812.75 1195.90L1803.75 1183.90Z" stroke="#DDCC77" stroke-width="2.4" fill="none" stroke-linejoin="miter"/>
<path d="M1896.12 1067.60L1905.12 1079.60L1896.12 1091.60L1887.12 1079.60Z" stroke="#DDCC77" stroke-width="2.4" fill="none" stroke-linejoin="miter"/>
<path d="M1979.50 1277.60L1988.50 1289.60L1979.50 1301.60L1970.50 1289.60Z" stroke="#DDCC77" stroke-width="2.4" fill="#DDCC77" stroke-linejoin="miter"/>
</svg>
</body></html>
